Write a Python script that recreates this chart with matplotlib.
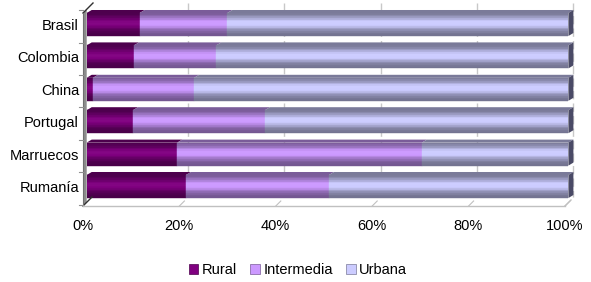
import numpy as np
import matplotlib
matplotlib.use("Agg")
import matplotlib.pyplot as plt
from matplotlib.lines import Line2D
from matplotlib.patches import Polygon, Rectangle
from matplotlib.colors import to_rgb
from matplotlib.transforms import ScaledTranslation

plt.rcParams['font.family'] = ['Liberation Sans', 'DejaVu Sans']

categories = ["Brasil", "Colombia", "China", "Portugal", "Marruecos", "Rumanía"]
rural = [11.0, 9.8, 1.3, 9.6, 18.8, 20.6]
intermedia = [18.2, 17.1, 21.0, 27.4, 50.8, 29.7]
urbana = [70.8, 73.1, 77.7, 63.0, 30.4, 49.7]
series_names = ["Rural", "Intermedia", "Urbana"]
series_colors = ["#800080", "#CC99FF", "#CCCCFF"]
xtick_values = [0, 20, 40, 60, 80, 100]
xtick_labels = ["0%", "20%", "40%", "60%", "80%", "100%"]

W, H = 591, 282
fig = plt.figure(figsize=(W / 100, H / 100), dpi=100)
FS = 10.5

# axes placement in pixels
ax_l, ax_r = 86.7, 568.4
ax_t, ax_b = 8.3, 202.7
ax = fig.add_axes([ax_l / W, 1 - ax_b / H, (ax_r - ax_l) / W, (ax_b - ax_t) / H])
ax.set_xlim(0, 100)
ax.set_ylim(len(categories) - 0.5, -0.5)
for s in ax.spines.values():
    s.set_visible(False)
ax.set_facecolor("none")

px_per_x = (ax_r - ax_l) / 100.0
px_per_y = (ax_b - ax_t) / 6.0


def P(x, y):
    return (x / W, 1 - y / H)


def fline(xs, ys, **kw):
    fig.add_artist(Line2D([x / W for x in xs], [1 - y / H for y in ys],
                          transform=fig.transFigure, **kw))


# gridlines (back wall, offset)
for v in xtick_values[1:]:
    gx = ax_l + v * px_per_x + 5.0
    fline([gx, gx], [3, 197], color="#c8c8c8", lw=1.0, ls=(0, (6, 3)), zorder=0)

# left wall
fig.add_artist(Polygon([P(83, 206), P(83, 13), P(86.7, 9.5), P(86.7, 202.5)],
                       closed=True, transform=fig.transFigure,
                       facecolor="#8c8c8c", edgecolor="none", zorder=0.5))
fline([83, 93], [13, 3], color="#303030", lw=1.0, zorder=0.6)
fline([83, 92], [206, 197], color="#303030", lw=1.0, zorder=0.6)
fline([83, 83], [13, 206], color="#707070", lw=0.8, zorder=0.6)
# y tick marks at category boundaries
for k in range(7):
    yy = ax_t + 2 + k * px_per_y
    fline([79.5, 83], [yy, yy], color="#909090", lw=0.8, zorder=0.6)

# floor
fline([83, 565], [206, 206], color="#c0c0c0", lw=1.0, zorder=0.6)
fline([565, 571], [206, 200], color="#c0c0c0", lw=1.0, zorder=0.6)
for v in xtick_values[1:]:
    fx = 83 + v * 4.82
    fline([fx, fx + 5], [206, 201], color="#c0c0c0", lw=0.8, zorder=0.6)

# bars with shading bands
bar_h = 0.71
nb = 14
dx = 5.0 / px_per_x
dy = 3.0 / px_per_y
ypos = np.arange(len(categories))


def shade(c, f):
    r = np.array(to_rgb(c))
    if f <= 1:
        return tuple(r * f)
    return tuple(r + (1 - r) * (f - 1))


# profile from top (t=0) to bottom (t=1)
def profile(t):
    return 0.55 + 0.5 * np.exp(-((t - 0.45) / 0.28) ** 2)


lefts = np.zeros(len(categories))
data = [rural, intermedia, urbana]
for si, (vals, col) in enumerate(zip(data, series_colors)):
    vals = np.array(vals)
    for b in range(nb):
        t = (b + 0.5) / nb
        f = profile(t)
        c = shade(col, min(f, 1.0) if f <= 1 else 1 + (f - 1) * 0.6)
        ax.barh(ypos - bar_h / 2 + b * bar_h / nb, vals, left=lefts,
                height=bar_h / nb, align="edge", color=c, edgecolor=c,
                linewidth=0.3, zorder=2)
    # top faces
    for i in range(len(categories)):
        x0, x1 = lefts[i], lefts[i] + vals[i]
        yt = ypos[i] - bar_h / 2
        ax.add_patch(Polygon([(x0, yt), (x1, yt), (x1 + dx, yt - dy), (x0 + dx, yt - dy)],
                             closed=True, facecolor=shade(col, 0.6), edgecolor="none",
                             zorder=1.5, clip_on=False))
    lefts = lefts + vals

# right end faces
for i in range(len(categories)):
    x1 = lefts[i]
    yt = ypos[i] - bar_h / 2
    yb = ypos[i] + bar_h / 2
    ax.add_patch(Polygon([(x1, yt), (x1 + dx, yt - dy), (x1 + dx, yb - dy), (x1, yb)],
                         closed=True, facecolor="#4a4a66", edgecolor="none",
                         zorder=1.8, clip_on=False))

# ticks and labels
ax.set_yticks(ypos)
ax.set_yticklabels(categories, fontsize=FS)
ax.tick_params(axis="y", length=0, pad=5.5)
ax.set_xticks(xtick_values)
ax.set_xticklabels(xtick_labels, fontsize=FS)
ax.tick_params(axis="x", length=0, pad=11.5)
off = ScaledTranslation(-3.7 / 100, 0, fig.dpi_scale_trans)
for lab in ax.get_xticklabels():
    lab.set_transform(lab.get_transform() + off)

# legend
handles = [Rectangle((0, 0), 1, 1, facecolor=c, edgecolor=shade(c, 0.6), lw=0.5)
           for c in series_colors]
fig.legend(handles, series_names, loc="center", bbox_to_anchor=P(298, 270),
           ncol=3, frameon=False, fontsize=FS, handlelength=0.65, handleheight=0.65,
           handletextpad=0.25, columnspacing=0.9)

fig.savefig("out.png", dpi=100)
